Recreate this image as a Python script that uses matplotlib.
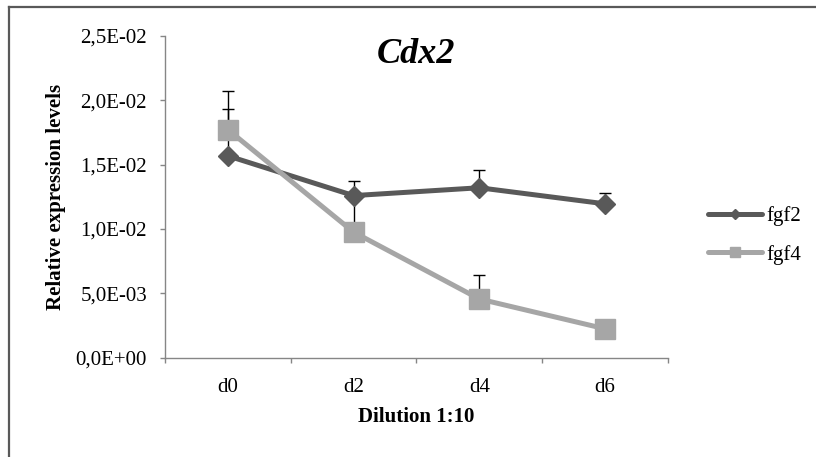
import matplotlib.pyplot as plt
from matplotlib.lines import Line2D

# values
days = ['d0', 'd2', 'd4', 'd6']
fgf2 = [0.01568, 0.01259, 0.0132, 0.01195]
fgf2_err = [0.00365, 0.0011, 0.0014, 0.00085]
fgf4 = [0.01772, 0.00975, 0.00455, 0.00223]
fgf4_err = [0.0030, 0.00284, 0.0019, 0.0004]
yticks = [0.0, 0.005, 0.010, 0.015, 0.020, 0.025]
ytick_labels = ['0,0E+00', '5,0E-03', '1,0E-02', '1,5E-02', '2,0E-02', '2,5E-02']

plt.rcParams['font.family'] = ['Liberation Serif', 'DejaVu Serif']

dark = '#595959'
light = '#A6A6A6'
axis_col = '#868686'

fig = plt.figure(figsize=(8.16, 4.57), dpi=100)
ax = fig.add_axes([0.2022, 0.2177, 0.6164, 0.7035])

x = list(range(len(days)))

# error bars (upper only), drawn under the series
ax.errorbar(x, fgf2, yerr=[[0] * 4, fgf2_err], fmt='none', ecolor='black',
            elinewidth=1.0, capsize=4.3, capthick=1.0, zorder=1)
ax.errorbar(x, fgf4, yerr=[[0] * 4, fgf4_err], fmt='none', ecolor='black',
            elinewidth=1.0, capsize=4.3, capthick=1.0, zorder=1)

ax.plot(x, fgf2, color=dark, lw=3.6, marker='D', markersize=10.5,
        markerfacecolor=dark, markeredgecolor=dark, zorder=3, solid_capstyle='round')
ax.plot(x, fgf4, color=light, lw=3.6, marker='s', markersize=14,
        markerfacecolor=light, markeredgecolor=light, zorder=4, solid_capstyle='round')

ax.set_xlim(-0.5, 3.5)
ax.set_ylim(0, 0.025)
ax.set_xticks([-0.5, 0.5, 1.5, 2.5, 3.5])
ax.set_xticklabels([])
ax.set_xticks(x, minor=True)
ax.set_xticklabels(days, minor=True)
ax.tick_params(axis='x', which='minor', length=0, pad=14.5, labelsize=15)
ax.tick_params(axis='x', which='major', length=3.6, width=1, color=axis_col, direction='out')
ax.set_yticks(yticks)
ax.set_yticklabels(ytick_labels)
ax.tick_params(axis='y', length=3.6, width=1, color=axis_col, direction='out', pad=9.4, labelsize=15)

for s in ['top', 'right']:
    ax.spines[s].set_visible(False)
for s in ['left', 'bottom']:
    ax.spines[s].set_color(axis_col)
    ax.spines[s].set_linewidth(1.0)

ax.set_ylabel('Relative expression levels', fontsize=15, fontweight='bold')
ax.yaxis.set_label_coords(-0.197, 0.5)
ax.set_xlabel('Dilution 1:10', fontsize=15, fontweight='bold')
ax.xaxis.label.set_va('baseline')
ax.xaxis.set_label_coords(0.5, -0.1997)

ax.text(0.5, 0.915, 'Cdx2', transform=ax.transAxes, ha='center', va='baseline',
        fontsize=26, fontweight='bold', fontstyle='italic')

handles = [
    Line2D([], [], color=dark, lw=3.6, marker='D', markersize=5,
           markerfacecolor=dark, markeredgecolor=dark, solid_capstyle='round'),
    Line2D([], [], color=light, lw=3.6, marker='s', markersize=7,
           markerfacecolor=light, markeredgecolor=light, solid_capstyle='round'),
]
fig.legend(handles, ['fgf2', 'fgf4'], loc='upper left', bbox_to_anchor=(0.8676, 0.549),
           frameon=False, fontsize=15, handlelength=2.6, handletextpad=0.2,
           labelspacing=0.9, borderpad=0, borderaxespad=0)

# chart area border (only left and top edges are visible in the crop)
fig.add_artist(Line2D([9 / 816, 9 / 816], [0, 1 - 7 / 457], color=dark, lw=1.6))
fig.add_artist(Line2D([9 / 816, 1], [1 - 7 / 457, 1 - 7 / 457], color=dark, lw=1.6))

fig.savefig('out.png', dpi=100)
